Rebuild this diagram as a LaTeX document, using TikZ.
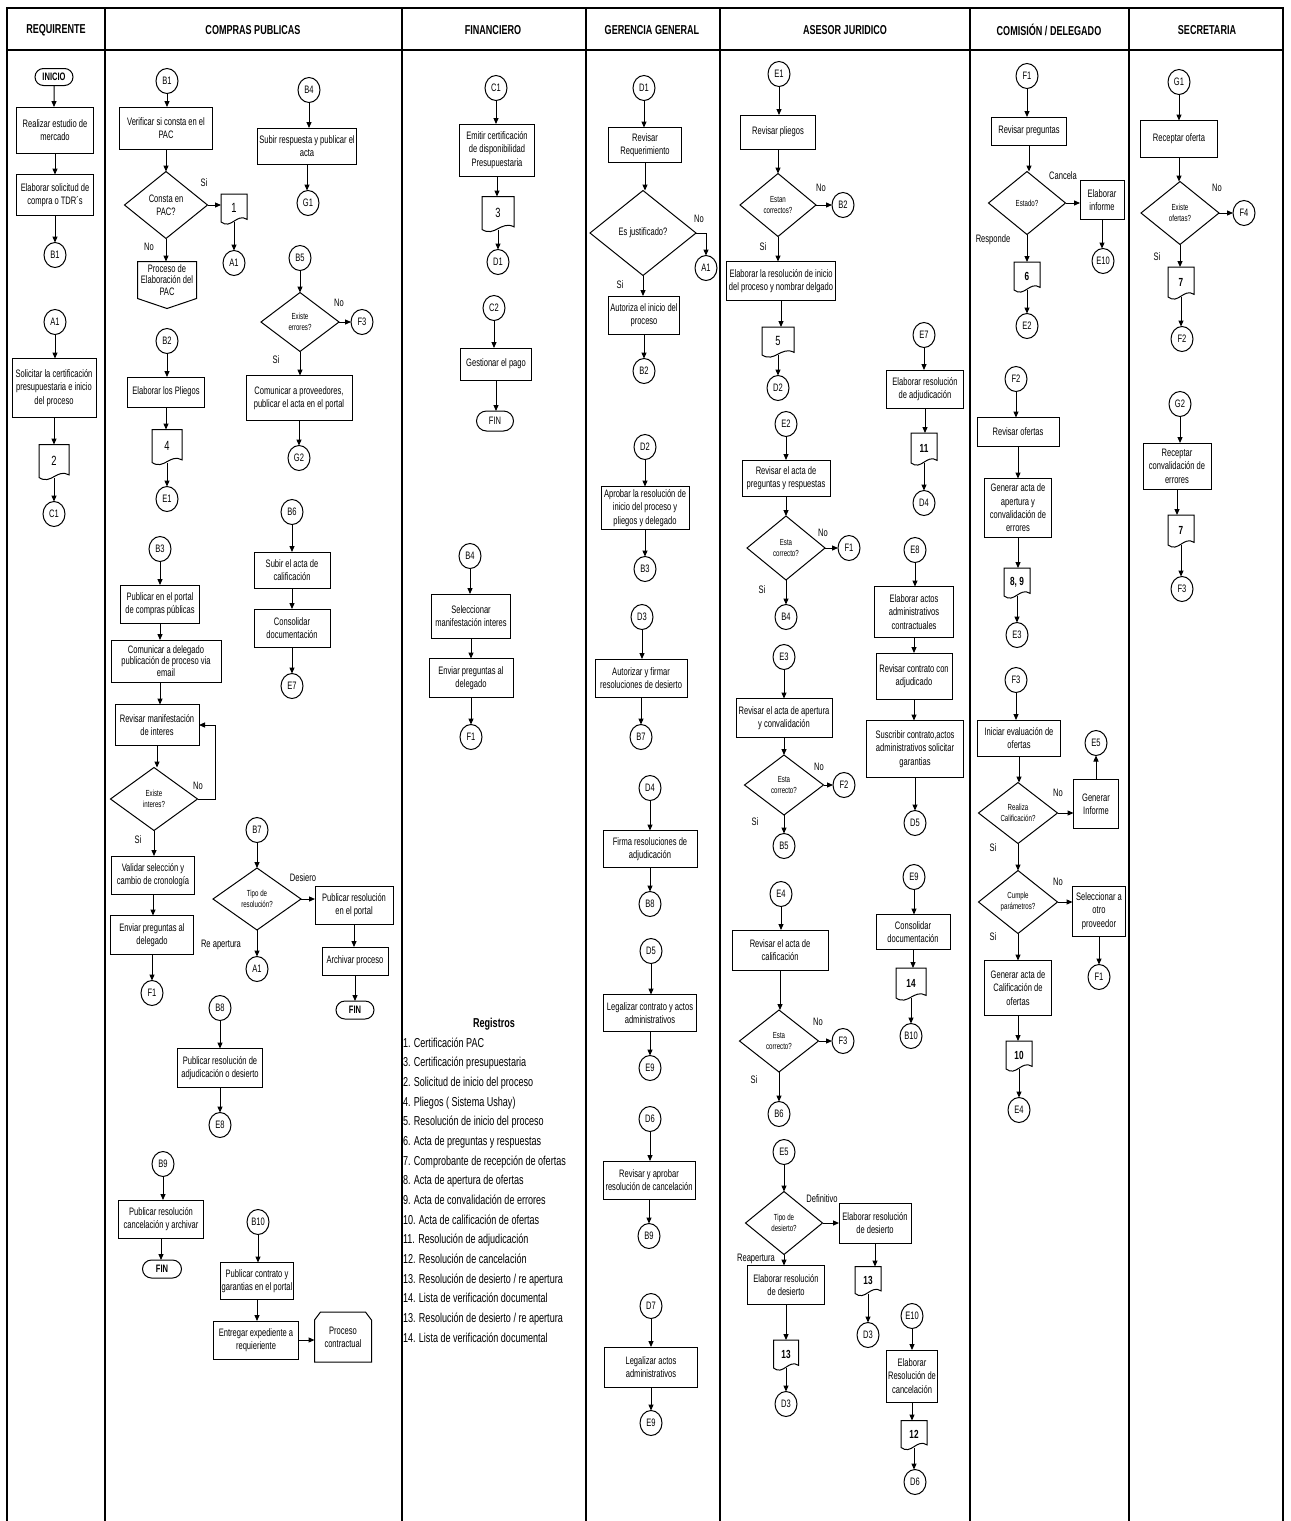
\documentclass[tikz,border=0pt]{standalone}
\usepackage{fontspec}
\setmainfont{Liberation Sans}[FakeStretch=0.7]
\usetikzlibrary{shapes.geometric,shapes.misc,arrows.meta,calc}

\tikzset{
  every node/.style={inner sep=0pt, outer sep=0pt, font=\fontsize{8.1}{10}\selectfont},
  sz/.style 2 args={minimum width=#1*0.75pt, minimum height=#2*0.75pt},
  ln/.style={line width=0.75pt},
  box/.style={draw, ln, rectangle, align=center},
  conn/.style={draw, ln, ellipse, minimum width=16.5pt, minimum height=18.75pt},
  term/.style={draw, ln, rounded rectangle, align=center},
  dec/.style={draw, ln, diamond, align=center},
  smalltxt/.style={font=\fontsize{6.6}{8}\selectfont},
  docnode/.style={align=center, font=\fontsize{10}{10}\selectfont},
  docb/.style={font=\bfseries\fontsize{8.8}{9}\selectfont},
  arr/.style={ln, -{Triangle[length=4.5pt,width=3.8pt]}},
  head/.style={font=\bfseries\fontsize{9.7}{11}\selectfont},
  framel/.style={line width=2.2pt},
  lanel/.style={line width=1pt},
  regs/.style={anchor=base west, font=\fontsize{9.7}{10}\selectfont},
}

% document symbol: name, position, width, height (px), extra style, text
\newcommand\docsym[6]{%
  \node[docnode, #5, sz={#3}{#4}] (#1) at (#2) {#6};
  \draw[ln] (#1.south west) -- (#1.north west) -- (#1.north east) -- ($(#1.south east)+(0,2pt)$)
    .. controls ($(#1.south east)!0.4!(#1.south west)+(0,7pt)$) and ($(#1.south west)!0.4!(#1.south east)+(0,-6pt)$) .. (#1.south west) -- cycle;
}
% vertical arrow down into the top of the next node
\newcommand\vd[2]{\draw[arr] (#1) -- (#1 |- #2.north);}
% horizontal arrow to the right
\newcommand\hd[2]{\draw[arr] (#1.east) -- (#1.east -| #2.west);}

\begin{document}
\begin{tikzpicture}[x=0.75pt, y=-0.75pt]
\useasboundingbox (0,0) rectangle (1291,1521);
\fill[white] (0,0) rectangle (1291,1521);

% ---------------- frame and lanes ----------------
\foreach \x in {105,402,586,720,970,1129} \draw[lanel] (\x,8) -- (\x,1521);
\draw[framel] (7,1521) -- (7,8) -- (1283,8) -- (1283,1521);
\draw[line width=2pt] (7,50) -- (1283,50);

\node[head] (h1) at (56,30) {REQUIRENTE};
\node[head] (h2) at (253,30) {COMPRAS PUBLICAS};
\node[head] (h3) at (493,30) {FINANCIERO};
\node[head] (h4) at (652,30) {GERENCIA GENERAL};
\node[head] (h5) at (845,30) {ASESOR JURIDICO};
\node[head] (h6) at (1049,30) {COMISIÓN / DELEGADO};
\node[head] (h7) at (1207,30) {SECRETARIA};

% ---------------- REQUIRENTE ----------------
\node[term, sz={38}{17}, font=\bfseries\fontsize{8.1}{9}\selectfont] (inicio) at (54,77) {INICIO};
\node[box, sz={77}{46}] (r1) at (55,130) {Realizar estudio de\\mercado};
\node[box, sz={77}{41}] (r2) at (55,195) {Elaborar solicitud de\\compra o TDR´s};
\node[conn] (rB1) at (55,255) {B1};
\node[conn] (rA1) at (55,322) {A1};
\node[box, sz={84}{59}] (r3) at (54,388) {Solicitar la certificación\\presupuestaria e inicio\\del proceso};
\docsym{rd2}{54,461}{30}{33}{}{2}
\node[conn] (rC1) at (54,514) {C1};
\vd{inicio}{r1} \vd{r1}{r2} \vd{r2}{rB1} \vd{rA1}{r3} \vd{r3}{rd2} \vd{rd2}{rC1}

% ---------------- COMPRAS PUBLICAS ----------------
\node[conn] (cB1) at (167,81) {B1};
\node[box, sz={93}{42}] (cv) at (166,128) {Verificar si consta en el\\PAC};
\node[dec, sz={83}{67}] (cdia1) at (166,205) {Consta en\\PAC?};
\docsym{cd1}{234,208}{26}{28}{}{1}
\node[conn] (cA1) at (234,263) {A1};
\node[align=center, sz={59}{37}, font=\fontsize{8.1}{8.4}\selectfont] (cpac) at (167,280) {Proceso de\\Elaboración del\\PAC};
\draw[ln] (cpac.north west) -- (cpac.north east) -- (cpac.south east) -- ($(cpac.south)+(0,-7.5pt)$) -- (cpac.south west) -- cycle;
\node (lc1) at (204,183) {Si};
\node (lc2) at (149,247) {No};
\node[conn] (cB2) at (167,341) {B2};
\node[box, sz={77}{30}] (cpl) at (166,392) {Elaborar los Pliegos};
\docsym{cd4}{167,446}{30}{33}{}{4}
\node[conn] (cE1) at (167,499) {E1};
\vd{cB1}{cv} \vd{cv}{cdia1} \hd{cdia1}{cd1} \vd{cd1}{cA1} \vd{cdia1}{cpac}
\vd{cB2}{cpl} \vd{cpl}{cd4} \vd{cd4}{cE1}

\node[conn] (cB4) at (309,90) {B4};
\node[box, sz={99}{36}] (csub) at (307,146) {Subir respuesta y publicar el\\acta};
\node[conn] (cG1) at (308,203) {G1};
\node[conn] (cB5) at (300,258) {B5};
\node[dec, smalltxt, sz={78}{59}] (cdia3) at (300,322) {Existe\\errores?};
\node[conn] (cF3) at (362,322) {F3};
\node (lc3) at (339,303) {No};
\node (lc4) at (276,360) {Si};
\node[box, sz={106}{45}] (ccp) at (299,398) {Comunicar a proveedores,\\publicar el acta en el portal};
\node[conn] (cG2) at (299,458) {G2};
\node[conn] (cB6) at (292,512) {B6};
\node[box, sz={76}{36}] (csac) at (292,570) {Subir el acta de\\calificación};
\node[box, sz={76}{38}] (ccon) at (292,628) {Consolidar\\documentación};
\node[conn] (cE7) at (292,686) {E7};
\vd{cB4}{csub} \vd{csub}{cG1} \vd{cB5}{cdia3} \hd{cdia3}{cF3} \vd{cdia3}{ccp} \vd{ccp}{cG2}
\vd{cB6}{csac} \vd{csac}{ccon} \vd{ccon}{cE7}

\node[conn] (cB3) at (160,549) {B3};
\node[box, sz={79}{38}] (cpub) at (160,604) {Publicar en el portal\\de compras públicas};
\node[box, sz={110}{42}, font=\fontsize{8.1}{8.8}\selectfont] (ccom) at (166,661) {Comunicar a delegado\\publicación de proceso via\\email};
\node[box, sz={84}{41}] (crev) at (157,725) {Revisar manifestación\\de interes};
\node[dec, smalltxt, sz={87}{63}] (cdia2) at (154,799) {Existe\\interes?};
\coordinate (cloop) at (215,725);
\node (lc5) at (198,786) {No};
\node (lc6) at (138,840) {Si};
\node[box, sz={83}{38}] (cval) at (153,875) {Validar selección y\\cambio de cronología};
\node[box, sz={83}{39}] (cenv) at (152,935) {Enviar preguntas al\\delegado};
\node[conn] (cF1) at (152,993) {F1};
\vd{cB3}{cpub} \vd{cpub}{ccom} \draw[arr] (ccom.south -| cpub) -- (cpub |- crev.north);
\vd{crev}{cdia2}
\draw[arr] (cdia2.east) -| (cloop) -- (crev.east);
\vd{cdia2}{cval} \vd{cval}{cenv} \vd{cenv}{cF1}

\node[conn] (cB7) at (257,830) {B7};
\node[dec, smalltxt, sz={88}{62}] (cdia4) at (257,899) {Tipo de\\resolución?};
\node (lc7) at (303,878) {Desiero};
\node (lc8) at (221,945) {Re apertura};
\node[box, sz={78}{38}] (cpr) at (354,905) {Publicar resolución\\en el portal};
\node[conn] (cA1b) at (257,969) {A1};
\node[box, sz={66}{28}] (carc) at (355,961) {Archivar proceso};
\node[term, sz={38}{18}, font=\bfseries\fontsize{8.1}{9}\selectfont] (cfin1) at (355,1010) {FIN};
\vd{cB7}{cdia4} \hd{cdia4}{cpr} \vd{cdia4}{cA1b} \vd{cpr}{carc} \vd{carc}{cfin1}

\node[conn] (cB8) at (220,1008) {B8};
\node[box, sz={85}{39}] (cpra) at (220,1068) {Publicar resolución de\\adjudicación o desierto};
\node[conn] (cE8) at (220,1125) {E8};
\node[conn] (cB9) at (163,1164) {B9};
\node[box, sz={85}{38}] (cprc) at (161,1219) {Publicar resolución\\cancelación y archivar};
\node[term, sz={39}{18}, font=\bfseries\fontsize{8.1}{9}\selectfont] (cfin2) at (162,1269) {FIN};
\node[conn] (cB10) at (258,1222) {B10};
\node[box, sz={73}{37}] (cpcg) at (257,1281) {Publicar contrato y\\garantias en el portal};
\node[box, sz={85}{38}] (cent) at (256,1340) {Entregar expediente a\\requieriente};
\node[align=center, sz={57}{50}] (cproc) at (343,1337) {Proceso\\contractual};
\draw[ln] ($(cproc.north west)+(0,-6pt)$) -- ($(cproc.north west)+(4.5pt,0)$) -- ($(cproc.north east)+(-4.5pt,0)$) -- ($(cproc.north east)+(0,-6pt)$) -- (cproc.south east) -- (cproc.south west) -- cycle;
\vd{cB8}{cpra} \vd{cpra}{cE8} \vd{cB9}{cprc} \vd{cprc}{cfin2}
\vd{cB10}{cpcg} \vd{cpcg}{cent} \hd{cent}{cproc}

% ---------------- FINANCIERO ----------------
\node[conn] (fC1) at (496,88) {C1};
\node[box, sz={75}{52}] (femi) at (497,150) {Emitir certificación\\de disponibilidad\\Presupuestaria};
\docsym{fd3}{498,213}{32}{33}{}{3}
\node[conn] (fD1) at (498,262) {D1};
\node[conn] (fC2) at (494,308) {C2};
\node[box, sz={71}{32}] (fges) at (496,364) {Gestionar el pago};
\node[term, sz={37}{20}] (ffin) at (495,421) {FIN};
\vd{fC1}{femi} \vd{femi}{fd3} \vd{fd3}{fD1} \vd{fC2}{fges} \vd{fges}{ffin}

\node[conn] (fB4) at (470,556) {B4};
\node[box, sz={79}{44}] (fsel) at (471,616) {Seleccionar\\manifestación interes};
\node[box, sz={84}{39}] (fenv) at (471,678) {Enviar preguntas al\\delegado};
\node[conn] (fF1) at (471,737) {F1};
\vd{fB4}{fsel} \vd{fsel}{fenv} \vd{fenv}{fF1}

\node[font=\bfseries\fontsize{9.7}{10}\selectfont] (regt) at (494,1024) {Registros};
\foreach \t [count=\i] in {{1. Certificación PAC},{3. Certificación presupuestaria},{2. Solicitud de inicio del proceso},{4. Pliegos ( Sistema Ushay)},{5. Resolución de inicio del proceso},{6. Acta de preguntas y respuestas},{7. Comprobante de recepción de ofertas},{8. Acta de apertura de ofertas},{9. Acta de convalidación de errores},{10. Acta de calificación de ofertas},{11. Resolución de adjudicación},{12. Resolución de cancelación},{13. Resolución de desierto / re apertura},{14. Lista de verificación documental},{13. Resolución de desierto / re apertura},{14. Lista de verificación documental}}
  \node[regs] (reg\i) at (403,{1047+19.67*(\i-1)}) {\t};

% ---------------- GERENCIA GENERAL ----------------
\node[conn] (gD1) at (644,88) {D1};
\node[box, sz={73}{35}] (grev) at (645,145) {Revisar\\Requerimiento};
\node[dec, sz={106}{85}] (gdia) at (643,233) {Es justificado?};
\node[conn] (gA1) at (706,268) {A1};
\node (lg1) at (699,219) {No};
\node (lg2) at (620,285) {Si};
\node[box, sz={71}{38}] (gaut) at (644,315) {Autoriza el inicio del\\proceso};
\node[conn] (gB2) at (644,371) {B2};
\vd{gD1}{grev} \vd{grev}{gdia} \draw[arr] (gdia.east) -| (gA1); \vd{gdia}{gaut} \vd{gaut}{gB2}

\node[conn] (gD2) at (645,447) {D2};
\node[box, sz={88}{43}] (gapr) at (645,508) {Aprobar la resolución de\\inicio del proceso y\\pliegos y delegado};
\node[conn] (gB3) at (645,569) {B3};
\node[conn] (gD3) at (642,617) {D3};
\node[box, sz={92}{38}] (gafr) at (641,678) {Autorizar y firmar\\resoluciones de desierto};
\node[conn] (gB7) at (641,737) {B7};
\node[conn] (gD4) at (650,788) {D4};
\node[box, sz={94}{37}] (gfir) at (650,849) {Firma resoluciones de\\adjudicación};
\node[conn] (gB8) at (650,904) {B8};
\node[conn] (gD5) at (651,951) {D5};
\node[box, sz={93}{37}] (gleg) at (650,1013) {Legalizar contrato y actos\\administrativos};
\node[conn] (gE9) at (650,1068) {E9};
\node[conn] (gD6) at (650,1119) {D6};
\node[box, sz={92}{38}] (grap) at (649,1180) {Revisar y aprobar\\resolución de cancelación};
\node[conn] (gB9) at (649,1236) {B9};
\node[conn] (gD7) at (651,1306) {D7};
\node[box, sz={93}{40}] (glac) at (651,1367) {Legalizar actos\\administrativos};
\node[conn] (gE9b) at (651,1423) {E9};
\vd{gD2}{gapr} \vd{gapr}{gB3} \vd{gD3}{gafr} \vd{gafr}{gB7} \vd{gD4}{gfir} \vd{gfir}{gB8}
\vd{gD5}{gleg} \vd{gleg}{gE9} \vd{gD6}{grap} \vd{grap}{gB9} \vd{gD7}{glac} \vd{glac}{gE9b}

% ---------------- ASESOR JURIDICO ----------------
\node[conn] (aE1) at (779,74) {E1};
\node[box, sz={75}{34}] (arp) at (778,132) {Revisar pliegos};
\node[dec, smalltxt, sz={76}{63}] (adia1) at (778,205) {Estan\\correctos?};
\node[conn] (aB2) at (843,205) {B2};
\node (la1) at (821,188) {No};
\node (la2) at (763,247) {Si};
\node[box, sz={109}{39}] (aela) at (781,281) {Elaborar la resolución de inicio\\del proceso y nombrar  delgado};
\docsym{ad5}{778,341}{32}{28}{}{5}
\node[conn] (aD2) at (778,388) {D2};
\vd{aE1}{arp} \vd{arp}{adia1} \hd{adia1}{aB2} \vd{adia1}{aela} \vd{aela}{ad5} \vd{ad5}{aD2}

\node[conn] (aE2) at (786,424) {E2};
\node[box, sz={88}{36}] (arap) at (786,478) {Revisar el acta de\\preguntas y respuestas};
\node[dec, smalltxt, sz={78}{64}] (adia2) at (786,548) {Esta\\correcto?};
\node[conn] (aF1) at (849,548) {F1};
\node (la3) at (823,533) {No};
\node (la4) at (762,590) {Si};
\node[conn] (aB4) at (786,617) {B4};
\vd{aE2}{arap} \vd{arap}{adia2} \hd{adia2}{aF1} \vd{adia2}{aB4}

\node[conn] (aE3) at (784,657) {E3};
\node[box, sz={96}{39}] (aapc) at (784,718) {Revisar el acta de apertura\\y convalidación};
\node[dec, smalltxt, sz={79}{60}] (adia3) at (784,785) {Esta\\correcto?};
\node[conn] (aF2) at (844,785) {F2};
\node (la5) at (819,767) {No};
\node (la6) at (755,822) {Si};
\node[conn] (aB5) at (784,846) {B5};
\vd{aE3}{aapc} \vd{aapc}{adia3} \hd{adia3}{aF2} \vd{adia3}{aB5}

\node[conn] (aE4) at (781,894) {E4};
\node[box, sz={96}{40}] (arac) at (780,950) {Revisar el acta de\\calificación};
\node[dec, smalltxt, sz={79}{62}] (adia4) at (779,1041) {Esta\\correcto?};
\node[conn] (aF3) at (843,1041) {F3};
\node (la7) at (818,1022) {No};
\node (la8) at (754,1080) {Si};
\node[conn] (aB6) at (779,1114) {B6};
\vd{aE4}{arac} \vd{arac}{adia4} \hd{adia4}{aF3} \vd{adia4}{aB6}

\node[conn] (aE5) at (784,1152) {E5};
\node[dec, smalltxt, sz={77}{63}] (adia5) at (784,1223) {Tipo de\\desierto?};
\node (la9) at (822,1199) {Definitivo};
\node (la10) at (756,1259) {Reapertura};
\node[box, sz={72}{40}] (aerd1) at (875,1223) {Elaborar resolución\\de desierto};
\node[box, sz={77}{39}] (aerd2) at (786,1285) {Elaborar resolución\\de desierto};
\docsym{ad13a}{868,1280}{26}{27}{docb}{13}
\node[conn] (aD3a) at (868,1335) {D3};
\docsym{ad13b}{786,1354}{25}{28}{docb}{13}
\node[conn] (aD3b) at (786,1404) {D3};
\vd{aE5}{adia5} \hd{adia5}{aerd1} \vd{adia5}{aerd2} \vd{aerd1}{ad13a} \vd{ad13a}{aD3a}
\vd{aerd2}{ad13b} \vd{ad13b}{aD3b}

\node[conn] (aE7) at (924,335) {E7};
\node[box, sz={77}{38}] (aera) at (925,389) {Elaborar resolución\\de adjudicación};
\docsym{ad11}{924,448}{26}{30}{docb}{11}
\node[conn] (aD4) at (924,503) {D4};
\vd{aE7}{aera} \vd{aera}{ad11} \vd{ad11}{aD4}

\node[conn] (aE8) at (915,550) {E8};
\node[box, sz={79}{51}] (aeaa) at (914,612) {Elaborar actos\\administrativos\\contractuales};
\node[box, sz={76}{46}] (arca) at (914,676) {Revisar contrato con\\adjudicado};
\node[box, sz={97}{57}] (asus) at (915,749) {Suscribir contrato,actos\\administrativos solicitar\\garantias};
\node[conn] (aD5) at (915,823) {D5};
\node[conn] (aE9) at (914,877) {E9};
\node[box, sz={74}{35}] (acd) at (913,932) {Consolidar\\documentación};
\docsym{ad14}{911,983}{30}{30}{docb}{14}
\node[conn] (aB10) at (911,1036) {B10};
\vd{aE8}{aeaa} \vd{aeaa}{arca} \vd{arca}{asus} \vd{asus}{aD5} \vd{aE9}{acd} \vd{acd}{ad14} \vd{ad14}{aB10}

\node[conn] (aE10) at (912,1316) {E10};
\node[box, sz={51}{52}] (aerc) at (912,1376) {Elaborar\\Resolución de\\cancelación};
\docsym{ad12}{914,1434}{26}{27}{docb}{12}
\node[conn] (aD6) at (915,1482) {D6};
\vd{aE10}{aerc} \vd{aerc}{ad12} \vd{ad12}{aD6}

% ---------------- COMISION / DELEGADO ----------------
\node[conn] (mF1) at (1027,76) {F1};
\node[box, sz={75}{28}] (mrp) at (1029,131) {Revisar preguntas};
\node[dec, smalltxt, sz={77}{63}] (mdia1) at (1027,203) {Estado?};
\node (lm1) at (1063,176) {Cancela};
\node (lm2) at (993,240) {Responde};
\node[box, sz={44}{39}] (minf) at (1102,200) {Elaborar\\informe};
\node[conn] (mE10) at (1103,261) {E10};
\docsym{md6}{1027,276}{26}{28}{docb}{6}
\node[conn] (mE2) at (1027,326) {E2};
\vd{mF1}{mrp} \vd{mrp}{mdia1} \hd{mdia1}{minf} \vd{minf}{mE10} \vd{mdia1}{md6} \vd{md6}{mE2}

\node[conn] (mF2) at (1016,379) {F2};
\node[box, sz={82}{29}] (mro) at (1018,432) {Revisar ofertas};
\node[box, sz={67}{59}] (mgaa) at (1018,508) {Generar acta de\\apertura y\\convalidación de\\errores};
\docsym{md89}{1017,582}{26}{28}{docb}{8, 9}
\node[conn] (mE3) at (1017,635) {E3};
\vd{mF2}{mro} \vd{mro}{mgaa} \vd{mgaa}{md89} \vd{md89}{mE3}

\node[conn] (mF3) at (1016,680) {F3};
\node[box, sz={83}{36}] (mie) at (1019,738) {Iniciar evaluación de\\ofertas};
\node[conn] (mE5) at (1096,743) {E5};
\node[dec, smalltxt, sz={79}{61}] (mdia2) at (1018,813) {Realiza\\Calificación?};
\node (lm3) at (1058,793) {No};
\node[box, sz={45}{49}] (mgi) at (1096,804) {Generar\\Informe};
\node (lm4) at (993,848) {Si};
\node[dec, smalltxt, sz={79}{63}] (mdia3) at (1018,902) {Cumple\\parámetros?};
\node (lm5) at (1058,882) {No};
\node[box, sz={53}{50}] (msel) at (1099,911) {Seleccionar a\\otro\\proveedor};
\node[conn] (mF1b) at (1099,977) {F1};
\node (lm6) at (993,937) {Si};
\node[box, sz={67}{55}] (mgac) at (1018,988) {Generar acta de\\Calificación de\\ofertas};
\docsym{md10}{1019,1055}{26}{28}{docb}{10}
\node[conn] (mE4) at (1019,1110) {E4};
\vd{mF3}{mie} \vd{mie}{mdia2} \hd{mdia2}{mgi} \draw[arr] (mgi) -- (mgi |- mE5.south);
\vd{mdia2}{mdia3} \hd{mdia3}{msel} \vd{msel}{mF1b} \vd{mdia3}{mgac} \vd{mgac}{md10} \vd{md10}{mE4}

% ---------------- SECRETARIA ----------------
\node[conn] (sG1) at (1179,82) {G1};
\node[box, sz={77}{37}] (sro) at (1179,139) {Receptar oferta};
\node[dec, smalltxt, sz={78}{63}] (sdia) at (1180,213) {Existe\\ofertas?};
\node[conn] (sF4) at (1244,213) {F4};
\node (ls1) at (1217,188) {No};
\node (ls2) at (1157,257) {Si};
\docsym{sd7}{1181,282}{26}{30}{docb}{7}
\node[conn] (sF2) at (1182,339) {F2};
\vd{sG1}{sro} \vd{sro}{sdia} \hd{sdia}{sF4} \vd{sdia}{sd7} \vd{sd7}{sF2}

\node[conn] (sG2) at (1180,404) {G2};
\node[box, sz={68}{46}] (srce) at (1177,466) {Receptar\\convalidación de\\errores};
\docsym{sd7b}{1181,530}{26}{30}{docb}{7}
\node[conn] (sF3) at (1182,589) {F3};
\vd{sG2}{srce} \vd{srce}{sd7b} \vd{sd7b}{sF3}

\end{tikzpicture}
\end{document}
